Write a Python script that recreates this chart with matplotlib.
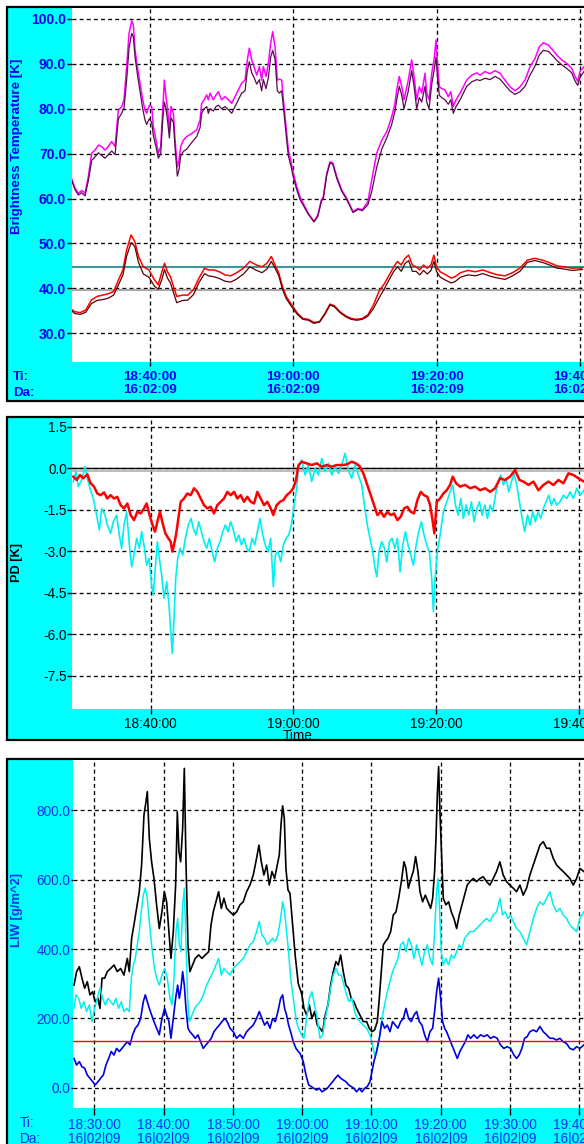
import matplotlib
matplotlib.use("Agg")
import matplotlib.pyplot as plt
from matplotlib.patches import Rectangle

plt.rcParams['font.family'] = ['Liberation Sans', 'DejaVu Sans']

# ---------------- data (time = minutes after 18:00) ----------------
# Panel 1: brightness temperatures
TB_TIME = [29.07, 29.53, 30.0, 30.46, 30.93, 31.39, 31.86, 32.32, 32.79, 33.25,
           33.72, 34.18, 34.65, 35.12, 35.58, 36.05, 36.37, 36.74, 37.07, 37.44,
           37.67, 37.91, 38.23, 38.60, 38.98, 39.30, 39.53, 39.91, 40.23, 40.47,
           40.84, 41.16, 41.49, 41.77, 42.0, 42.23, 42.47, 42.70, 42.93, 43.26,
           43.49, 43.81, 44.05, 44.28, 44.65, 45.12, 45.82, 46.51, 46.98, 47.21,
           47.54, 47.91, 48.14, 48.37, 48.84, 49.21, 49.54, 50.0, 50.47, 50.93,
           51.40, 51.86, 52.33, 52.79, 53.26, 53.58, 53.86, 54.19, 54.51, 54.89,
           55.26, 55.58, 55.82, 56.19, 56.52, 56.84, 57.12, 57.45, 57.77, 58.05,
           58.38, 58.61, 58.98, 59.31, 59.63, 60.0, 60.47, 60.93, 62.09, 62.89,
           63.41, 63.92, 64.19, 64.66, 65.12, 65.5, 66.06, 66.76, 67.45, 68.33,
           69.03, 69.62, 70.4, 70.94, 71.64, 72.34, 73.04, 73.73, 74.19, 74.43,
           74.79, 75.13, 75.45, 76.05, 76.52, 76.85, 77.22, 77.59, 77.92, 78.38,
           78.62, 78.94, 79.32, 79.64, 79.92, 80.15, 80.38, 80.71, 81.17, 81.63,
           81.97, 82.33, 82.71, 83.27, 83.73, 84.2, 84.9, 85.6, 86.06, 86.76,
           87.45, 88.15, 88.85, 89.55, 90.24, 90.94, 91.64, 92.34, 93.04, 93.73,
           94.33, 94.89, 95.59, 96.2, 96.76, 97.46, 98.16, 98.86, 99.32, 99.7,
           100.01, 100.57]
TB_A = [64.4, 62.3, 61.2, 61.8, 61.2, 64.9, 70.1, 70.8, 71.9, 71.6,
        70.8, 71.6, 72.7, 71.6, 79.7, 80.5, 82.0, 89.4, 96.8, 99.6,
        98.7, 93.1, 89.4, 85.7, 82.0, 79.7, 79.0, 80.8, 80.5, 76.0,
        73.0, 70.1, 71.6, 79.7, 86.4, 82.7, 79.7, 75.3, 80.5, 79.0,
        73.0, 67.1, 68.6, 71.6, 73.0, 73.8, 74.5, 75.3, 77.5, 81.2,
        82.0, 83.1, 82.0, 83.5, 82.0, 83.1, 83.8, 82.0, 82.7, 82.0,
        81.2, 82.7, 84.2, 85.7, 86.4, 90.9, 93.5, 90.9, 89.4, 87.5,
        89.4, 86.4, 89.4, 87.2, 90.1, 94.6, 97.2, 93.8, 86.4, 86.6,
        86.4, 82.0, 76.0, 70.8, 68.6, 65.6, 62.7, 60.4, 56.7, 54.9,
        56.3, 59.7, 60.4, 65.6, 68.2, 68.0, 64.9, 61.9, 60.1, 57.1,
        57.8, 57.5, 59.3, 64.1, 70.1, 73.0, 74.9, 78.2, 81.2, 84.2,
        87.2, 84.9, 82.0, 86.4, 90.9, 87.2, 82.0, 84.9, 83.5, 87.9,
        83.5, 82.0, 87.9, 90.9, 95.3, 89.4, 84.9, 84.5, 84.2, 82.7,
        83.8, 80.5, 82.0, 83.5, 84.9, 86.4, 87.5, 88.0, 87.5, 88.3,
        87.8, 88.5, 87.9, 86.4, 84.9, 84.0, 84.9, 86.4, 89.4, 91.2,
        93.8, 94.7, 94.2, 93.1, 92.0, 90.9, 90.1, 89.0, 87.2, 86.1,
        88.3, 89.4]
TB_B = [64.0, 62.0, 60.8, 61.3, 60.6, 64.0, 68.5, 69.3, 70.2, 69.6,
        69.0, 69.8, 70.6, 69.8, 77.8, 79.0, 80.2, 86.5, 93.5, 96.8,
        96.0, 91.5, 87.8, 84.0, 80.0, 77.5, 76.5, 77.8, 77.0, 74.0,
        71.5, 69.0, 70.0, 77.5, 81.5, 80.0, 77.0, 73.5, 78.0, 77.0,
        71.5, 65.0, 66.5, 69.5, 70.5, 71.0, 72.5, 73.8, 75.8, 79.0,
        80.0, 80.5, 79.0, 80.0, 79.5, 80.5, 80.8, 80.0, 80.5, 79.8,
        79.0, 80.5, 82.0, 83.5, 84.0, 88.5, 90.5, 88.0, 87.0, 85.5,
        86.5, 84.0, 86.5, 84.5, 87.0, 91.5, 93.0, 91.0, 84.0, 83.5,
        84.0, 80.5, 74.5, 69.5, 67.5, 64.8, 62.0, 59.8, 56.5, 54.8,
        56.0, 59.4, 60.1, 65.2, 67.9, 67.7, 64.5, 61.6, 59.8, 56.9,
        57.6, 57.3, 58.6, 61.5, 67.0, 71.0, 73.5, 76.5, 79.5, 82.0,
        85.0, 83.0, 80.0, 84.0, 88.5, 85.0, 80.0, 82.5, 81.5, 85.0,
        81.5, 80.0, 85.5, 88.5, 91.5, 86.5, 83.0, 82.5, 82.0, 81.0,
        82.0, 79.0, 80.5, 82.0, 83.5, 85.0, 86.0, 86.5, 86.3, 86.8,
        86.5, 87.2, 86.6, 85.3, 84.0, 83.2, 83.8, 85.0, 87.5, 89.5,
        92.0, 93.0, 92.8, 91.8, 90.8, 89.8, 89.0, 88.0, 86.2, 85.2,
        87.0, 88.3]

TL_TIME = [29.07, 29.49, 30.26, 31.04, 31.82, 32.59, 33.37, 34.15, 34.92, 35.6,
           36.22, 36.74, 37.36, 37.88, 38.39, 39.07, 39.84, 40.62, 41.14, 41.66,
           42.02, 42.43, 42.85, 43.21, 43.73, 44.51, 45.28, 46.06, 46.84, 47.61,
           48.13, 48.91, 49.68, 50.46, 51.24, 52.01, 53.05, 53.93, 54.86, 55.64,
           56.31, 56.93, 57.45, 57.97, 58.49, 59.01, 59.78, 60.56, 61.34, 62.11,
           62.89, 63.67, 64.44, 65.12, 65.74, 66.51, 67.29, 68.07, 68.85, 69.62,
           70.4, 71.18, 71.95, 72.73, 73.4, 74.02, 74.54, 75.06, 75.58, 76.1,
           76.61, 77.13, 77.65, 78.17, 78.69, 79.2, 79.62, 79.98, 80.5, 81.28,
           82.05, 82.57, 83.35, 84.38, 85.42, 86.45, 87.49, 88.52, 89.56, 90.6,
           91.63, 92.67, 93.7, 94.74, 95.78, 96.81, 97.85, 98.88, 100.33]
TL_A = [35.3, 34.8, 34.6, 35.2, 37.4, 38.2, 38.5, 38.8, 39.3, 41.9,
        44.1, 48.6, 51.9, 50.4, 47.1, 44.8, 44.1, 41.9, 40.8, 43.7,
        45.6, 43.7, 42.6, 40.8, 38.2, 38.5, 38.5, 39.7, 42.3, 44.5,
        44.1, 44.1, 43.7, 43.0, 42.8, 43.4, 44.5, 46.0, 45.2, 44.8,
        45.6, 47.1, 45.2, 43.4, 40.4, 38.2, 36.3, 34.5, 33.3, 33.1,
        32.4, 32.6, 34.5, 36.5, 36.1, 34.8, 33.9, 33.3, 33.1, 33.3,
        34.1, 36.3, 39.3, 41.1, 43.0, 44.8, 46.0, 45.2, 46.7, 47.4,
        45.2, 44.8, 44.1, 45.2, 44.5, 45.2, 47.4, 44.8, 43.7, 43.0,
        42.3, 42.6, 43.5, 44.0, 43.7, 44.1, 43.5, 43.0, 42.8, 43.5,
        44.5, 46.3, 46.7, 46.3, 45.7, 45.0, 44.8, 44.5, 44.6]
TL_B = [35.0, 34.4, 34.2, 34.7, 36.6, 37.3, 37.5, 37.8, 38.5, 40.8,
        43.0, 47.2, 50.2, 49.3, 45.8, 43.2, 42.5, 40.5, 39.8, 42.0,
        44.2, 42.3, 41.2, 39.4, 36.8, 37.3, 37.4, 38.6, 41.3, 43.3,
        42.8, 42.6, 42.2, 41.6, 41.4, 42.0, 43.2, 44.8, 44.0, 43.5,
        44.3, 46.0, 44.5, 42.8, 39.8, 37.7, 35.9, 34.2, 33.1, 32.9,
        32.2, 32.5, 34.3, 36.3, 35.9, 34.6, 33.7, 33.1, 32.9, 33.1,
        33.8, 35.5, 37.8, 40.0, 42.0, 43.8, 44.8, 43.8, 45.5, 46.2,
        43.8, 43.8, 43.0, 44.0, 43.2, 44.0, 46.0, 43.8, 42.5, 41.8,
        41.2, 41.5, 42.5, 43.0, 42.8, 43.3, 42.7, 42.3, 42.0, 42.8,
        43.8, 45.8, 46.2, 45.8, 45.2, 44.5, 44.3, 44.0, 44.2]
TB_REF_HIGH = 44.85
TB_REF_LOW = 39.6

# Panel 2: PD
PD_RED_TIME = [29.19, 29.66, 30.13, 30.59, 31.15, 31.62, 32.09, 32.55, 33.02, 33.49,
               33.95, 34.42, 34.89, 35.35, 35.82, 36.29, 36.76, 37.22, 37.69, 38.16,
               38.62, 39.09, 39.46, 39.93, 40.30, 40.63, 40.96, 41.33, 41.70, 42.08,
               42.50, 42.82, 43.06, 43.29, 43.57, 43.90, 44.23, 44.69, 45.16, 45.63,
               46.09, 46.56, 47.03, 47.49, 47.96, 48.43, 48.89, 49.36, 49.83, 50.29,
               50.76, 51.23, 51.69, 52.16, 52.63, 53.09, 53.56, 54.03, 54.50, 54.96,
               55.43, 55.90, 56.36, 56.83, 57.20, 57.67, 58.13, 58.60, 59.07, 59.53,
               60.0, 60.38, 60.71, 61.17, 61.88, 62.58, 63.28, 63.98, 64.68, 65.38,
               66.07, 66.77, 67.47, 68.17, 68.78, 69.34, 69.80, 70.36, 70.84, 71.30,
               71.77, 72.24, 72.70, 73.17, 73.64, 74.10, 74.57, 75.04, 75.50, 75.97,
               76.44, 76.90, 77.37, 77.84, 78.30, 78.77, 79.15, 79.52, 79.75, 80.08,
               80.55, 81.01, 81.48, 81.95, 82.32, 82.79, 83.35, 84.05, 84.75, 85.45,
               86.15, 86.85, 87.55, 88.25, 88.95, 89.65, 90.35, 91.05, 91.66, 92.22,
               92.92, 93.62, 94.32, 95.02, 95.72, 96.42, 97.12, 97.82, 98.52, 99.22,
               99.92, 100.71]
PD_RED = [-0.31, -0.43, -0.25, -0.37, -0.23, -0.55, -0.67, -0.92, -0.98, -0.88,
          -1.10, -0.98, -1.10, -1.04, -1.34, -1.46, -1.28, -1.70, -1.88, -1.58,
          -1.64, -1.46, -1.28, -1.76, -2.06, -2.30, -1.94, -1.58, -2.00, -2.36,
          -2.54, -2.66, -3.02, -2.78, -2.42, -1.82, -1.22, -1.10, -0.92, -0.98,
          -0.73, -0.86, -1.10, -1.34, -1.46, -1.40, -1.64, -1.34, -1.22, -1.10,
          -0.86, -0.98, -0.86, -1.10, -0.98, -1.22, -1.04, -1.22, -1.28, -0.86,
          -1.10, -1.34, -1.22, -1.46, -1.70, -1.34, -1.22, -1.16, -0.98, -0.88,
          -0.73, -0.43, 0.10, 0.23, 0.17, 0.11, 0.17, 0.05, 0.11, 0.05,
          0.11, 0.11, 0.13, 0.23, 0.17, 0.05, -0.19, -0.61, -0.98, -1.34,
          -1.70, -1.58, -1.76, -1.58, -1.70, -1.64, -1.88, -1.76, -1.46, -1.40,
          -1.58, -1.64, -1.16, -0.86, -0.98, -1.04, -1.34, -1.94, -2.36, -1.22,
          -1.10, -0.92, -0.80, -0.61, -0.31, -0.55, -0.67, -0.61, -0.73, -0.67,
          -0.80, -0.73, -0.86, -0.73, -0.37, -0.43, -0.31, -0.07, -0.43, -0.49,
          -0.61, -0.49, -0.80, -0.61, -0.49, -0.61, -0.43, -0.55, -0.19, -0.25,
          -0.37, -0.49]
PD_CYAN_TIME = [29.19, 29.57, 29.89, 30.36, 30.83, 31.15, 31.53, 31.99, 32.46, 32.84,
                33.16, 33.63, 33.95, 34.42, 34.79, 35.26, 35.63, 35.96, 36.29, 36.66,
                37.04, 37.36, 37.69, 38.06, 38.44, 38.76, 39.09, 39.46, 39.79, 40.16,
                40.39, 40.68, 40.96, 41.24, 41.56, 41.89, 42.27, 42.59, 42.87, 43.06,
                43.29, 43.53, 43.81, 44.13, 44.51, 44.88, 45.30, 45.67, 46.0, 46.37,
                46.75, 47.12, 47.49, 47.87, 48.24, 48.62, 48.99, 49.36, 49.74, 50.11,
                50.48, 50.86, 51.23, 51.60, 51.98, 52.35, 52.72, 53.09, 53.47, 53.84,
                54.22, 54.59, 54.96, 55.34, 55.71, 56.08, 56.46, 56.83, 57.20, 57.48,
                57.86, 58.23, 58.60, 58.98, 59.35, 59.72, 60.10, 60.47, 60.71, 61.17,
                61.64, 62.11, 62.58, 63.04, 63.51, 63.98, 64.44, 64.91, 65.38, 65.84,
                66.31, 66.77, 67.24, 67.71, 68.17, 68.64, 69.11, 69.58, 69.95, 70.36,
                70.74, 71.12, 71.44, 71.68, 72.00, 72.38, 72.75, 73.08, 73.45, 73.83,
                74.20, 74.57, 74.95, 75.32, 75.69, 76.07, 76.44, 76.81, 77.19, 77.56,
                77.94, 78.30, 78.68, 79.05, 79.38, 79.61, 79.85, 80.17, 80.55, 81.01,
                81.48, 81.95, 82.32, 82.70, 83.07, 83.45, 83.82, 84.19, 84.57, 84.94,
                85.31, 85.69, 86.06, 86.43, 86.81, 87.18, 87.55, 87.93, 88.30, 88.67,
                89.05, 89.42, 89.79, 90.17, 90.54, 90.91, 91.28, 91.66, 92.03, 92.40,
                92.78, 93.15, 93.52, 93.90, 94.27, 94.64, 95.02, 95.39, 95.76, 96.14,
                96.51, 96.88, 97.35, 97.82, 98.29, 98.75, 99.22, 99.69, 100.15, 100.71]
PD_CYAN = [-0.49, -0.13, -0.67, -0.43, 0.05, -0.37, -0.73, -1.10, -1.70, -2.24,
           -1.46, -1.70, -2.06, -2.36, -1.94, -1.70, -2.42, -2.90, -2.06, -1.58,
           -2.78, -3.57, -3.14, -2.54, -2.90, -2.30, -2.78, -3.51, -3.27, -4.23,
           -4.59, -3.63, -2.66, -3.27, -3.87, -4.71, -4.11, -4.95, -6.04, -6.70,
           -5.43, -3.99, -3.27, -2.90, -3.14, -2.54, -2.06, -1.82, -2.18, -2.42,
           -1.94, -2.30, -2.66, -2.90, -2.54, -3.02, -3.39, -2.90, -2.66, -2.30,
           -2.06, -2.30, -1.94, -2.24, -2.66, -2.42, -2.78, -2.54, -2.90, -3.02,
           -2.54, -2.78, -2.30, -1.82, -2.42, -2.78, -3.02, -2.54, -4.29, -3.14,
           -3.02, -3.39, -2.78, -2.54, -2.42, -2.06, -1.34, -0.73, -0.01, 0.29,
           -0.25, 0.11, -0.49, -0.01, -0.25, 0.35, -0.13, 0.17, -0.25, 0.05,
           -0.19, 0.11, 0.53, -0.07, -0.37, 0.11, -0.25, -0.61, -1.34, -2.06,
           -2.54, -3.02, -3.63, -3.93, -3.02, -2.66, -2.90, -3.39, -2.66, -2.54,
           -2.90, -2.54, -3.75, -2.78, -2.30, -2.78, -3.14, -3.51, -2.78, -2.30,
           -1.94, -2.42, -2.78, -3.02, -3.99, -5.19, -3.99, -3.02, -2.42, -1.58,
           -1.22, -0.86, -0.61, -1.34, -1.70, -1.10, -1.82, -1.34, -1.70, -1.22,
           -1.94, -1.46, -1.22, -1.70, -1.34, -1.82, -1.34, -1.58, -0.98, -0.49,
           -0.25, -0.61, -0.37, -0.86, -0.49, -0.19, -0.61, -1.22, -1.82, -2.30,
           -1.70, -2.06, -1.58, -1.94, -1.58, -1.82, -1.46, -1.22, -0.98, -1.34,
           -1.10, -1.34, -1.22, -0.98, -1.10, -0.86, -1.10, -0.73, -0.98, -0.80]

# Panel 3: LIW
LW_TIME = [27.07, 27.45, 27.84, 28.22, 28.61, 28.99, 29.37, 29.76, 30.14, 30.53,
           30.82, 31.11, 31.49, 31.88, 32.36, 32.84, 33.32, 33.80, 34.28, 34.76,
           35.05, 35.39, 35.72, 36.11, 36.49, 36.83, 37.17, 37.46, 37.65, 37.94,
           38.27, 38.61, 38.99, 39.38, 39.76, 40.10, 40.44, 40.77, 41.06, 41.40,
           41.74, 41.98, 42.22, 42.46, 42.75, 42.99, 43.23, 43.52, 43.80, 44.19,
           44.57, 45.06, 45.54, 46.02, 46.50, 46.84, 47.17, 47.56, 47.94, 48.33,
           48.71, 49.10, 49.58, 50.06, 50.54, 51.02, 51.50, 51.98, 52.46, 52.94,
           53.42, 53.76, 54.10, 54.48, 54.87, 55.25, 55.64, 56.02, 56.41, 56.70,
           56.94, 57.18, 57.42, 57.66, 57.95, 58.24, 58.62, 59.0, 59.44, 59.92,
           60.26, 60.64, 61.03, 61.41, 61.79, 62.18, 62.56, 62.95, 63.33, 63.72,
           64.10, 64.49, 64.87, 65.21, 65.55, 65.93, 66.31, 66.70, 67.08, 67.47,
           67.85, 68.34, 68.82, 69.30, 69.68, 70.07, 70.45, 70.84, 71.13, 71.42,
           71.71, 72.0, 72.38, 72.77, 73.15, 73.54, 73.92, 74.31, 74.69, 74.98,
           75.32, 75.70, 76.03, 76.37, 76.71, 77.0, 77.38, 77.77, 78.15, 78.54,
           78.83, 79.11, 79.31, 79.50, 79.69, 79.88, 80.07, 80.36, 80.75, 81.13,
           81.52, 81.90, 82.29, 82.67, 83.06, 83.44, 83.82, 84.21, 84.69, 85.17,
           85.65, 86.13, 86.61, 87.09, 87.57, 88.05, 88.53, 89.01, 89.49, 89.97,
           90.46, 90.94, 91.42, 91.90, 92.38, 92.86, 93.35, 93.83, 94.31, 94.79,
           95.27, 95.75, 96.23, 96.71, 97.19, 97.67, 98.15, 98.63, 99.12, 99.60,
           100.08, 100.65]
LW_BLACK = [296, 335, 349, 316, 287, 306, 268, 277, 248, 258,
            229, 316, 316, 335, 344, 354, 335, 344, 325, 373,
            335, 431, 469, 517, 565, 642, 786, 824, 853, 718,
            651, 603, 527, 459, 507, 565, 536, 450, 373, 450,
            584, 795, 680, 651, 747, 920, 651, 412, 335, 354,
            373, 383, 373, 383, 392, 469, 507, 536, 565, 517,
            546, 517, 507, 498, 507, 527, 536, 565, 584, 613,
            661, 699, 651, 613, 642, 584, 623, 603, 642, 671,
            757, 812, 776, 630, 570, 560, 470, 380, 300, 272,
            229, 210, 239, 200, 220, 181, 172, 162, 210, 239,
            296, 335, 364, 354, 383, 335, 296, 287, 258, 248,
            229, 210, 191, 191, 172, 162, 167, 191, 258, 335,
            412, 421, 431, 450, 498, 507, 546, 594, 651, 632,
            575, 603, 623, 666, 623, 565, 536, 555, 536, 517,
            546, 623, 718, 843, 925, 795, 699, 546, 527, 536,
            507, 488, 459, 498, 527, 555, 584, 594, 603, 594,
            603, 608, 594, 584, 603, 623, 651, 613, 594, 584,
            575, 565, 584, 555, 575, 613, 642, 671, 699, 709,
            690, 690, 661, 642, 632, 623, 613, 603, 584, 603,
            632, 623]
LW_CYAN_TIME = [27.07, 27.35, 27.74, 28.12, 28.51, 28.89, 29.28, 29.66, 30.05, 30.43,
                30.82, 31.20, 31.59, 31.97, 32.36, 32.74, 33.13, 33.51, 33.90, 34.28,
                34.67, 35.05, 35.34, 35.63, 35.92, 36.20, 36.49, 36.78, 37.07, 37.36,
                37.65, 37.94, 38.27, 38.61, 38.99, 39.38, 39.76, 40.15, 40.53, 40.92,
                41.21, 41.50, 41.79, 42.03, 42.27, 42.51, 42.75, 42.99, 43.23, 43.47,
                43.71, 44.09, 44.48, 44.86, 45.25, 45.73, 46.21, 46.69, 47.17, 47.56,
                47.94, 48.33, 48.71, 49.10, 49.58, 50.06, 50.54, 51.02, 51.50, 51.98,
                52.46, 52.94, 53.42, 53.81, 54.19, 54.58, 54.96, 55.35, 55.73, 56.12,
                56.50, 56.89, 57.18, 57.46, 57.75, 58.04, 58.33, 58.72, 59.10, 59.44,
                59.92, 60.26, 60.64, 61.03, 61.41, 61.79, 62.18, 62.56, 62.95, 63.33,
                63.72, 64.10, 64.49, 64.87, 65.26, 65.64, 66.03, 66.41, 66.80, 67.18,
                67.57, 67.95, 68.34, 68.82, 69.30, 69.78, 70.17, 70.45, 70.74, 71.13,
                71.51, 71.90, 72.28, 72.67, 73.05, 73.44, 73.82, 74.21, 74.59, 74.98,
                75.36, 75.75, 76.13, 76.52, 76.90, 77.29, 77.67, 78.06, 78.44, 78.83,
                79.11, 79.40, 79.59, 79.78, 80.07, 80.36, 80.75, 81.13, 81.52, 81.90,
                82.29, 82.67, 83.06, 83.44, 83.82, 84.21, 84.69, 85.17, 85.65, 86.13,
                86.61, 87.09, 87.57, 88.05, 88.53, 88.92, 89.30, 89.69, 90.07, 90.46,
                90.94, 91.42, 91.90, 92.38, 92.86, 93.35, 93.83, 94.31, 94.79, 95.27,
                95.75, 96.23, 96.71, 97.19, 97.67, 98.15, 98.63, 99.12, 99.60, 100.08,
                100.65]
LW_CYAN = [229, 268, 258, 229, 248, 220, 239, 191, 229, 258,
           287, 258, 239, 258, 248, 239, 258, 229, 248, 220,
           229, 220, 316, 354, 373, 412, 450, 507, 555, 575,
           546, 479, 412, 354, 316, 296, 325, 344, 316, 258,
           239, 316, 450, 488, 412, 392, 527, 575, 412, 258,
           191, 210, 229, 239, 248, 268, 296, 316, 335, 354,
           373, 325, 344, 335, 325, 344, 354, 363, 373, 392,
           412, 421, 450, 479, 440, 431, 412, 421, 431, 421,
           440, 488, 536, 507, 450, 392, 316, 258, 200, 172,
           153, 143, 200, 258, 277, 239, 200, 143, 153, 200,
           239, 287, 325, 344, 325, 325, 296, 268, 248, 258,
           220, 200, 191, 181, 172, 153, 124, 95, 105, 143,
           200, 239, 277, 306, 335, 354, 373, 412, 421, 392,
           431, 412, 373, 412, 383, 354, 392, 412, 373, 354,
           450, 565, 603, 536, 392, 354, 373, 354, 383, 373,
           392, 412, 402, 431, 440, 450, 450, 459, 469, 479,
           488, 479, 498, 507, 546, 498, 507, 488, 498, 479,
           459, 450, 431, 412, 450, 488, 517, 536, 527, 546,
           565, 527, 507, 517, 498, 488, 469, 459, 450, 488,
           507]
LW_BLUE_TIME = [27.07, 27.45, 27.84, 28.22, 28.61, 28.99, 29.37, 29.76, 30.14, 30.53,
                30.91, 31.30, 31.68, 32.07, 32.45, 32.84, 33.22, 33.61, 33.99, 34.38,
                34.76, 35.15, 35.53, 35.92, 36.30, 36.69, 37.07, 37.36, 37.65, 37.94,
                38.27, 38.61, 38.99, 39.38, 39.76, 40.15, 40.44, 40.77, 41.06, 41.40,
                41.74, 42.03, 42.27, 42.51, 42.75, 42.99, 43.23, 43.52, 43.80, 44.19,
                44.57, 44.96, 45.34, 45.73, 46.11, 46.50, 46.88, 47.27, 47.65, 48.04,
                48.42, 48.81, 49.19, 49.58, 50.06, 50.54, 51.02, 51.50, 51.98, 52.46,
                52.94, 53.42, 53.81, 54.19, 54.58, 54.96, 55.35, 55.73, 56.12, 56.50,
                56.89, 57.18, 57.46, 57.75, 58.04, 58.33, 58.72, 59.10, 59.44, 59.68,
                60.16, 60.55, 60.93, 61.32, 61.70, 62.09, 62.47, 62.86, 63.24, 63.63,
                64.01, 64.40, 64.78, 65.17, 65.55, 65.93, 66.32, 66.70, 67.09, 67.47,
                67.85, 68.24, 68.62, 69.01, 69.39, 69.78, 70.07, 70.36, 70.74, 71.13,
                71.51, 71.90, 72.28, 72.67, 73.05, 73.44, 73.82, 74.21, 74.59, 74.98,
                75.36, 75.75, 76.13, 76.52, 76.90, 77.29, 77.67, 78.06, 78.44, 78.83,
                79.11, 79.40, 79.69, 79.98, 80.26, 80.55, 80.84, 81.22, 81.61, 81.99,
                82.38, 82.76, 83.15, 83.53, 83.92, 84.30, 84.78, 85.26, 85.74, 86.22,
                86.70, 87.18, 87.66, 88.14, 88.62, 89.10, 89.59, 90.07, 90.55, 90.94,
                91.32, 91.71, 92.09, 92.47, 92.86, 93.35, 93.83, 94.31, 94.79, 95.27,
                95.75, 96.23, 96.71, 97.19, 97.67, 98.15, 98.63, 99.12, 99.60, 100.08,
                100.65]
LW_BLUE = [85, 66, 76, 61, 57, 37, 28, 18, 9, 18,
           28, 37, 66, 85, 105, 95, 114, 105, 114, 124,
           133, 124, 153, 172, 181, 200, 248, 268, 248, 229,
           210, 191, 172, 153, 200, 229, 210, 191, 143, 200,
           258, 296, 258, 287, 335, 296, 229, 172, 162, 153,
           143, 153, 133, 114, 124, 133, 143, 162, 172, 181,
           191, 200, 191, 172, 162, 143, 153, 143, 162, 172,
           181, 200, 220, 200, 181, 191, 172, 200, 191, 220,
           258, 268, 229, 210, 181, 162, 133, 114, 105, 100,
           76, 37, 9, 4, -1, -6, -1, -11, -6, -1,
           9, 18, 28, 37, 28, 23, 18, 9, 4, -1,
           -11, -1, -11, -1, 4, 18, 47, 76, 105, 143,
           191, 172, 181, 162, 191, 181, 172, 191, 200, 229,
           200, 191, 210, 220, 191, 181, 153, 133, 162, 172,
           220, 277, 316, 258, 191, 172, 162, 143, 124, 105,
           85, 105, 119, 133, 153, 143, 153, 143, 153, 148,
           153, 143, 148, 143, 124, 114, 119, 114, 95, 85,
           95, 114, 143, 148, 162, 167, 162, 177, 162, 153,
           143, 143, 138, 143, 133, 128, 114, 110, 119, 114,
           124]
LW_REF = 135

# ---------------- layout helpers (pixels) ----------------
W, H = 584, 1144
fig = plt.figure(figsize=(W / 100, H / 100), dpi=100)
fig.patch.set_facecolor('white')

CYAN = '#00ffff'
BLUE1 = '#0000f0'
BLUE3 = '#1030f0'


def frac_box(x0, y0, x1, y1):
    return [x0 / W, 1 - y1 / H, (x1 - x0) / W, (y1 - y0) / H]


def frame(x0, y0, x1, y1):
    b = frac_box(x0, y0, x1, y1)
    fig.add_artist(Rectangle((b[0], b[1]), b[2], b[3], transform=fig.transFigure,
                             facecolor=CYAN, edgecolor='black', lw=1.6, zorder=0))


def ftext(x, y, s, **kw):
    fig.text(x / W, 1 - y / H, s, **kw)


GRID = dict(color='black', lw=0.95, linestyle=(0, (3.0, 2.4)))


def setup(ax, xlim, ylim, yticks, xticks):
    ax.set_facecolor('white')
    for s in ax.spines.values():
        s.set_visible(False)
    ax.set_xlim(*xlim)
    ax.set_ylim(*ylim)
    ax.set_yticks(yticks)
    ax.set_xticks(xticks)
    ax.set_axisbelow(True)
    ax.grid(True, **GRID)


def hms(t):
    t = int(round(t))
    return f"{18 + t // 60}:{t % 60:02d}:00"


# ---------------- panel 1 ----------------
frame(7, 7, 600, 401)
ax1 = fig.add_axes(frac_box(72, 8, 584, 362))
yt1 = [30, 40, 50, 60, 70, 80, 90, 100]
xt1 = [40, 60, 80, 100]
setup(ax1, (29.11, 100.57), (23.6, 102.45), yt1, xt1)
ax1.axhline(TB_REF_LOW, color='#a8a8a8', lw=1.5, zorder=1.5)
ax1.axhline(TB_REF_HIGH, color='#3a9a9a', lw=1.5, zorder=1.5)
ax1.plot(TB_TIME, TB_A, color='#ff00ff', lw=1.1)
ax1.plot(TB_TIME, TB_B, color='#5a0a50', lw=0.9)
ax1.plot(TL_TIME, TL_A, color='#ff0000', lw=1.1)
ax1.plot(TL_TIME, TL_B, color='#5a0000', lw=0.9)
ax1.set_yticklabels([f"{v:.1f}" for v in yt1], color=BLUE1, fontweight='bold', fontsize=10)
ax1.set_xticklabels([hms(t) + "\n16:02:09" for t in xt1], color=BLUE1,
                    fontweight='bold', fontsize=9.6, linespacing=1.15)
ax1.tick_params(axis='y', length=3.6, width=1.0, pad=0.6)
ax1.tick_params(axis='x', length=3.0, width=1.0, pad=3.5)
ftext(13, 377, "Ti:", color=BLUE1, fontweight='bold', fontsize=9.6, va='center')
ftext(13, 393, "Da:", color=BLUE1, fontweight='bold', fontsize=9.6, va='center')
ftext(17, 146, "Brightness Temperature [K]", color=BLUE1, fontweight='bold',
      fontsize=9.6, rotation=90, ha='center', va='center')

# ---------------- panel 2 ----------------
frame(7, 417, 600, 740)
ax2 = fig.add_axes(frac_box(72.3, 418, 584, 709))
yt2 = [-7.5, -6.0, -4.5, -3.0, -1.5, 0.0, 1.5]
xt2 = [40, 60, 80, 100]
setup(ax2, (29.05, 100.7), (-8.71, 1.81), yt2, xt2)
ax2.axhline(-0.09, color='#b0b0b0', lw=1.2, zorder=1.5)
ax2.axhline(0.0, color='black', lw=1.0, zorder=1.6)
ax2.plot(PD_CYAN_TIME, PD_CYAN, color='#00f0f0', lw=1.2)
ax2.plot(PD_RED_TIME, PD_RED, color='#ff0000', lw=1.8)
ax2.set_yticklabels([f"{v:.1f}" for v in yt2], color='black', fontsize=9.8)
ax2.set_xticklabels([hms(t) for t in xt2], color='black', fontsize=9.8)
ax2.tick_params(axis='y', length=3.6, width=1.0, pad=0.3)
ax2.tick_params(axis='x', length=3.8, width=1.0, pad=1.6)
ftext(298, 736, "Time", color='black', fontsize=9.8, ha='center', va='center')
ftext(17, 562, "PD [K]", color='black', fontweight='bold', fontsize=9.2,
      rotation=90, ha='center', va='center')

# ---------------- panel 3 ----------------
frame(7, 759, 600, 1170)
ax3 = fig.add_axes(frac_box(73.3, 760, 584, 1108))
yt3 = [0, 200, 400, 600, 800]
xt3 = [30, 40, 50, 60, 70, 80, 90, 100]
setup(ax3, (26.97, 100.67), (-57.6, 944), yt3, xt3)
ax3.plot(LW_TIME, LW_BLACK, color='black', lw=1.2)
ax3.plot(LW_CYAN_TIME, LW_CYAN, color='#00f0f0', lw=1.1)
ax3.plot(LW_BLUE_TIME, LW_BLUE, color='#0000e0', lw=1.2)
ax3.axhline(LW_REF, color='#ff0000', lw=1.0, zorder=3)
ax3.set_yticklabels([f"{v:.1f}" for v in yt3], color=BLUE3, fontsize=9.8)
ax3.set_xticklabels([hms(t) + "\n16|02|09" for t in xt3], color=BLUE3,
                    fontsize=9.8, linespacing=1.05)
ax3.tick_params(axis='y', length=1.6, width=1.0, pad=0.6)
ax3.tick_params(axis='x', length=5.0, width=1.0, pad=2.0)
ftext(20, 1123, "Ti:", color=BLUE3, fontsize=9.8, va='center')
ftext(20, 1139, "Da:", color=BLUE3, fontsize=9.8, va='center')
ftext(17, 910, "LIW [g/m^2]", color=BLUE3, fontweight='bold', fontsize=9.4,
      rotation=90, ha='center', va='center')

fig.savefig("out.png", dpi=100)
